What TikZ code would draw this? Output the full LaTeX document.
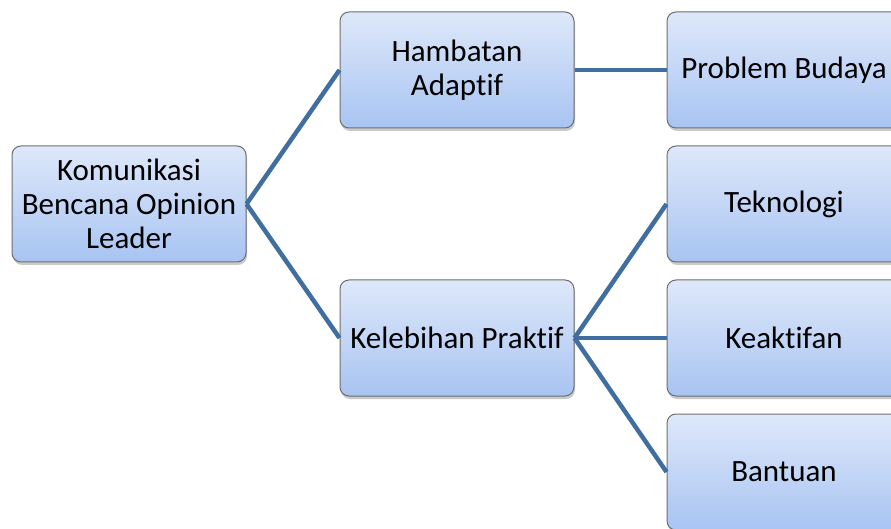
\documentclass[tikz,border=0pt]{standalone}
\usepackage{fontspec}
\setmainfont{Carlito}[Ligatures=NoCommon]
\usetikzlibrary{shadows,positioning}
\definecolor{linkblue}{RGB}{64,110,160}
\definecolor{boxtop}{RGB}{222,232,250}
\definecolor{boxbot}{RGB}{168,196,242}
\definecolor{boxline}{RGB}{110,110,110}
\begin{document}
\begin{tikzpicture}[x=1pt,y=-1pt,
  box/.style={draw=boxline,line width=1pt,rounded corners=9pt,
    top color=boxtop,bottom color=boxbot,
    minimum width=234pt,minimum height=116pt,inner sep=0pt,
    align=center,
    font=\fontsize{31}{34}\selectfont,
    drop shadow={shadow xshift=1pt,shadow yshift=-3pt,opacity=0.35,fill=black!60}},
  link/.style={draw=linkblue,line width=4.5pt}]
\useasboundingbox (0,0) rectangle (891,529);
\node[box] (root) at (129,204) {Komunikasi\\Bencana Opinion\\Leader};
\node[box] (ham) at (457,70) {Hambatan\\Adaptif};
\node[box] (keb) at (457,338) {Kelebihan Praktif};
\node[box] (pro) at (784,70) {Problem Budaya};
\node[box] (tek) at (784,204) {Teknologi};
\node[box] (kea) at (784,338) {Keaktifan};
\node[box] (ban) at (784,472) {Bantuan};
\draw[link] (root.east) -- (ham.west);
\draw[link] (root.east) -- (keb.west);
\draw[link] (ham.east) -- (pro.west);
\draw[link] (keb.east) -- (tek.west);
\draw[link] (keb.east) -- (kea.west);
\draw[link] (keb.east) -- (ban.west);
\end{tikzpicture}
\end{document}
